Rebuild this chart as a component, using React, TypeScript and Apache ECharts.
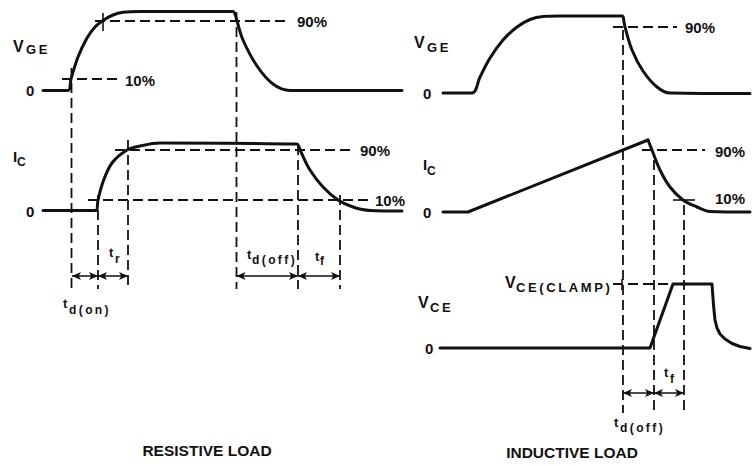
import React, { useEffect, useRef } from "react";
import * as echarts from "echarts";

// ---- waveform data (x = time position, y = level position on the sheet) ----
const vgeResistive: [number, number][] = [
  [43, 90.5], [68, 90.5], [71, 79], [78, 57], [87, 38], [95, 27], [103, 20.5], [113, 15],
  [123, 12.3], [140, 11.5], [233, 11.5], [235, 14], [237, 21], [243, 40], [257, 66],
  [273, 84], [290, 90.5], [402, 90.5],
];
const icResistive: [number, number][] = [
  [43, 210.5], [96, 210.5], [98, 200], [103, 182], [112, 163], [127, 150], [140, 146],
  [160, 143], [297, 144], [299, 147], [301, 152], [310, 170], [323, 187], [338, 200],
  [353, 207], [370, 210.5], [402, 211],
];
const vgeInductive: [number, number][] = [
  [443, 93], [472, 93], [480, 77], [490, 58], [503, 40], [517, 27], [530, 19.5], [543, 16.5],
  [560, 16], [622, 16], [624, 22], [625, 27], [632, 50], [643, 71], [657, 87], [670, 93],
  [750, 93.5],
];
const icInductiveRamp: [number, number][] = [[443, 212], [468, 212], [648, 140]];
const icInductiveFall: [number, number][] = [
  [648, 140], [652, 150], [660, 170], [670, 187], [683, 200], [697, 207], [710, 211.5],
  [750, 212],
];
const vceInductive: [number, number][] = [
  [440, 348], [650, 348], [673, 284], [712, 284], [713.5, 305], [715, 320], [717, 328],
  [720, 334], [725, 339], [732, 343.5], [740, 346.5], [750, 348.5],
];

// dashed reference lines: horizontal [x1, x2, y], vertical [x, y1, y2]
const dashH: [number, number, number][] = [
  [95, 290, 21], [62, 120, 79], [115, 350, 150], [88, 370, 200],
  [613, 677, 27], [642, 705, 150], [613, 668, 284],
];
const dashV: [number, number, number][] = [
  [71.5, 68, 289], [98, 195, 289], [128, 140, 289], [236.5, 12, 289], [298, 145, 289],
  [340, 195, 289], [623, 30, 413], [654, 160, 413], [684, 205, 413],
];
// short solid cross ticks [x1, y1, x2, y2]
const ticks: [number, number, number, number][] = [
  [103, 13, 103, 31], [673, 200, 695, 200], [622, 279, 622, 290],
];
// dimension arrows [x1, x2, y]
const arrows: [number, number, number][] = [
  [72, 98, 276], [98, 128, 276], [236.5, 298, 276], [298, 340, 276],
  [623, 654, 393], [654, 684, 393],
];

// labels: [text, x, y, size, weight]
const T = "\u2009";
const labels: [string, number, number, number, string][] = [
  ["0", 26, 90, 15, "bold"], ["0", 26, 211, 15, "bold"],
  ["0", 423, 93, 15, "bold"], ["0", 423, 212, 15, "bold"], ["0", 425, 348, 15, "bold"],
  ["V", 13, 46, 16, "bold"], ["G" + T + "E", 26, 49, 13, "bold"],
  ["I", 13, 156, 15, "bold"], ["C", 17, 162, 12, "bold"],
  ["V", 414, 42, 16, "bold"], ["G" + T + "E", 427, 47, 13, "bold"],
  ["I", 423, 164, 15, "bold"], ["C", 427, 171, 12, "bold"],
  ["V", 418, 302, 16, "bold"], ["C" + T + "E", 430, 307, 13, "bold"],
  ["V", 505, 282, 16, "bold"], ["CE(CLAMP)".split("").join(T), 516, 287, 13, "bold"],
  ["90%", 297, 21, 15, "bold"], ["10%", 125, 80, 15, "bold"],
  ["90%", 360, 150, 15, "bold"], ["10%", 375, 200, 15, "bold"],
  ["90%", 685, 27, 15, "bold"], ["90%", 715, 151, 15, "bold"], ["10%", 715, 198, 15, "bold"],
  ["t", 63, 303, 13, "bold"], ["d(on)".split("").join(T), 69, 310, 12, "bold"],
  ["t", 109, 252, 13, "bold"], ["r", 115, 259, 12, "bold"],
  ["t", 247, 254, 13, "bold"], ["d(off)".split("").join(T), 252, 260, 12, "bold"],
  ["t", 315, 256, 13, "bold"], ["f", 320, 261, 12, "bold"],
  ["t", 664, 372, 13, "bold"], ["f", 670, 379, 12, "bold"],
  ["t", 614, 422, 13, "bold"], ["d(off)".split("").join(T), 620, 428, 12, "bold"],
];
const titles: [string, number, number][] = [
  ["RESISTIVE LOAD", 207, 450],
  ["INDUCTIVE LOAD", 572, 452],
];

const INK = "#111";
const FONT = '"Liberation Sans", Arial, sans-serif';

export default function App() {
  const ref = useRef<HTMLDivElement>(null);
  useEffect(() => {
    if (!ref.current) return;
    const chart = echarts.init(ref.current, undefined, { renderer: "svg" });
    const wave = (data: [number, number][], smooth: number | boolean) => ({
      type: "line",
      data,
      smooth,
      showSymbol: false,
      symbol: "none",
      silent: true,
      z: 5,
      lineStyle: { color: INK, width: 3, cap: "round", join: "round" },
    });
    const seg = (a: [number, number], b: [number, number], dashed: boolean, w: number) => ({
      type: "line",
      data: [a, b],
      showSymbol: false,
      symbol: "none",
      silent: true,
      z: 3,
      lineStyle: { color: INK, width: w, type: dashed ? [10, 5] : "solid" },
    });
    const series: any[] = [
      wave(vgeResistive, 0.35),
      wave(icResistive, 0.35),
      wave(vgeInductive, 0.35),
      wave(icInductiveRamp, false),
      wave(icInductiveFall, 0.35),
      wave(vceInductive, false),
      ...dashH.map((d) => seg([d[0], d[2]], [d[1], d[2]], true, 1.8)),
      ...dashV.map((d) => seg([d[0], d[1]], [d[0], d[2]], true, 1.8)),
      ...ticks.map((d) => seg([d[0], d[1]], [d[2], d[3]], false, 1.6)),
      {
        type: "line",
        data: [[0, 0]],
        symbol: "none",
        lineStyle: { opacity: 0 },
        silent: true,
        markLine: {
          silent: true,
          animation: false,
          symbol: ["arrow", "arrow"],
          symbolSize: [6, 9],
          label: { show: false },
          lineStyle: { color: INK, width: 1.5, type: "solid" },
          data: arrows.map((a) => [{ coord: [a[0], a[2]] }, { coord: [a[1], a[2]] }]),
        },
      },
    ];
    const graphic: any[] = [
      ...labels.map((l) => ({
        type: "text",
        x: l[1],
        y: l[2],
        silent: true,
        style: {
          text: l[0],
          font: `${l[4]} ${l[3]}px ${FONT}`,
          fill: INK,
          textAlign: "left",
          textVerticalAlign: "middle",
        },
      })),
      ...titles.map((t) => ({
        type: "text",
        x: t[1],
        y: t[2],
        silent: true,
        style: {
          text: t[0],
          font: `bold 15.5px ${FONT}`,
          fill: INK,
          textAlign: "center",
          textVerticalAlign: "middle",
        },
      })),
    ];
    chart.setOption({
      animation: false,
      backgroundColor: "#fff",
      grid: { left: 0, right: 0, top: 0, bottom: 0 },
      xAxis: { type: "value", min: 0, max: 755, show: false },
      yAxis: { type: "value", min: 0, max: 466, inverse: true, show: false },
      series,
      graphic,
    });
    return () => chart.dispose();
  }, []);
  return (
    <div
      ref={ref}
      style={{ position: "absolute", left: 0, top: 0, width: 755, height: 466, background: "#fff" }}
    />
  );
}
